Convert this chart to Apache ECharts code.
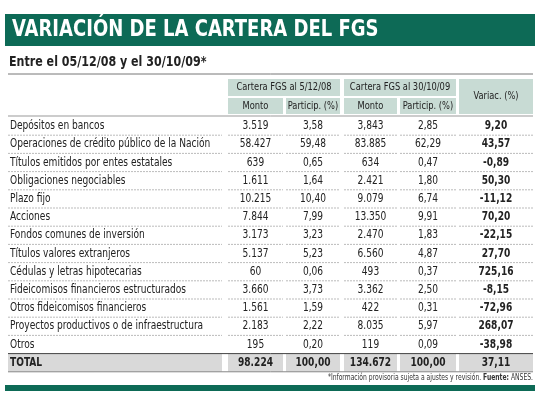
<!DOCTYPE html>
<html><head><meta charset="utf-8">
<script src="https://cdn.jsdelivr.net/npm/echarts@6/dist/echarts.min.js"></script>
<style>html,body{margin:0;padding:0;background:#fff}#c{width:540px;height:405px}</style>
</head><body><div id="c"></div>
<script>
const categories = ["Depósitos en bancos","Operaciones de crédito público de la Nación","Títulos emitidos por entes estatales","Obligaciones negociables","Plazo fijo","Acciones","Fondos comunes de inversión","Títulos valores extranjeros","Cédulas y letras hipotecarias","Fideicomisos financieros estructurados","Otros fideicomisos financieros","Proyectos productivos o de infraestructura","Otros"];
const monto08 = ["3.519","58.427","639","1.611","10.215","7.844","3.173","5.137","60","3.660","1.561","2.183","195"];
const part08 = ["3,58","59,48","0,65","1,64","10,40","7,99","3,23","5,23","0,06","3,73","1,59","2,22","0,20"];
const monto09 = ["3,843","83.885","634","2.421","9.079","13.350","2.470","6.560","493","3.362","422","8.035","119"];
const part09 = ["2,85","62,29","0,47","1,80","6,74","9,91","1,83","4,87","0,37","2,50","0,31","5,97","0,09"];
const variac = ["9,20","43,57","-0,89","50,30","-11,12","70,20","-22,15","27,70","725,16","-8,15","-72,96","268,07","-38,98"];
const total = ["TOTAL","98.224","100,00","134.672","100,00","37,11"];
const header1 = ["Cartera FGS al 5/12/08","Cartera FGS al 30/10/09","Variac. (%)"];
const header2 = ["Monto","Particip. (%)","Monto","Particip. (%)"];

const F = '"Liberation Sans Narrow","DejaVu Sans Condensed",sans-serif';
const G = '#0d6a56', HF = '#c8dbd4', TXT = '#222';
const SX = 0.84;
const cols = [[228,283],[286,340],[344,397],[400,456],[459,533]];
const labelX = 8, y0 = 117, rh = 18.2;
const els = [];
function txt(x,y,style,sx){els.push({type:'text',x:x,y:y,scaleX:sx||SX,style:style});}
els.push({type:'rect',shape:{x:5,y:14,width:530,height:32},style:{fill:G}});
txt(12,30,{text:'VARIACIÓN DE LA CARTERA DEL FGS',font:'bold 23px '+F,fill:'#fff',verticalAlign:'middle'},0.87);
txt(9,62,{text:'Entre el 05/12/08 y el 30/10/09*',font:'bold 14px '+F,fill:TXT,verticalAlign:'middle'},0.88);
els.push({type:'line',shape:{x1:8,y1:74,x2:533,y2:74},style:{stroke:'#777',lineWidth:1}});
const h1 = [[228,340],[344,456]];
h1.forEach((c,i)=>{
  els.push({type:'rect',shape:{x:c[0],y:79,width:c[1]-c[0],height:17},style:{fill:HF}});
  txt((c[0]+c[1])/2,87.5,{text:header1[i],font:'11px '+F,fill:TXT,align:'center',verticalAlign:'middle'});
});
els.push({type:'rect',shape:{x:459,y:79,width:74,height:35},style:{fill:HF}});
txt(496,96.5,{text:header1[2],font:'11px '+F,fill:TXT,align:'center',verticalAlign:'middle'});
header2.forEach((t,i)=>{
  const c = cols[i];
  els.push({type:'rect',shape:{x:c[0],y:98,width:c[1]-c[0],height:16},style:{fill:HF}});
  txt((c[0]+c[1])/2,106,{text:t,font:'11px '+F,fill:TXT,align:'center',verticalAlign:'middle'});
});
els.push({type:'line',shape:{x1:8,y1:116,x2:533,y2:116},style:{stroke:'#999',lineWidth:1}});
categories.forEach((cat,i)=>{
  const yc = y0 + i*rh + rh/2, yb = y0 + (i+1)*rh;
  txt(labelX+2,yc,{text:cat,font:'12px '+F,fill:TXT,verticalAlign:'middle'});
  const vals = [monto08[i],part08[i],monto09[i],part09[i],variac[i]];
  vals.forEach((v,j)=>{
    const c = cols[j];
    txt((c[0]+c[1])/2,yc,{text:v,font:(j===4?'bold ':'')+'12px '+F,fill:TXT,align:'center',verticalAlign:'middle'});
  });
  if(i<categories.length-1){
    els.push({type:'line',shape:{x1:8,y1:yb,x2:222,y2:yb},style:{stroke:'#aaa',lineWidth:0.8,lineDash:[2,1]}});
    cols.forEach(c=>els.push({type:'line',shape:{x1:c[0],y1:yb,x2:c[1],y2:yb},style:{stroke:'#aaa',lineWidth:0.8,lineDash:[2,1]}}));
  }
});
const ty = y0 + categories.length*rh;
els.push({type:'rect',shape:{x:8,y:ty,width:525,height:rh},style:{fill:'#d9d9d9'}});
[[222,228],[283,286],[340,344],[397,400],[456,459]].forEach(g=>els.push({type:'rect',shape:{x:g[0],y:ty,width:g[1]-g[0],height:rh},style:{fill:'#fff'}}));
els.push({type:'line',shape:{x1:8,y1:ty,x2:533,y2:ty},style:{stroke:'#444',lineWidth:1}});
els.push({type:'line',shape:{x1:8,y1:ty+rh,x2:533,y2:ty+rh},style:{stroke:'#888',lineWidth:1}});
txt(labelX+2,ty+rh/2,{text:total[0],font:'bold 12px '+F,fill:TXT,verticalAlign:'middle'});
total.slice(1).forEach((v,j)=>{
  const c = cols[j];
  txt((c[0]+c[1])/2,ty+rh/2,{text:v,font:'bold 12px '+F,fill:TXT,align:'center',verticalAlign:'middle'});
});
txt(533,378,{rich:{a:{font:'8px '+F,fill:'#333'},b:{font:'bold 8px '+F,fill:'#333'}},text:'{a|*Información provisoria sujeta a ajustes y revisión. }{b|Fuente:}{a| ANSES.}',align:'right',verticalAlign:'middle'});
els.push({type:'rect',shape:{x:5,y:385,width:530,height:6},style:{fill:G}});
const chart = echarts.init(document.getElementById('c'));
chart.setOption({animation:false,graphic:{elements:els}});
</script></body></html>
